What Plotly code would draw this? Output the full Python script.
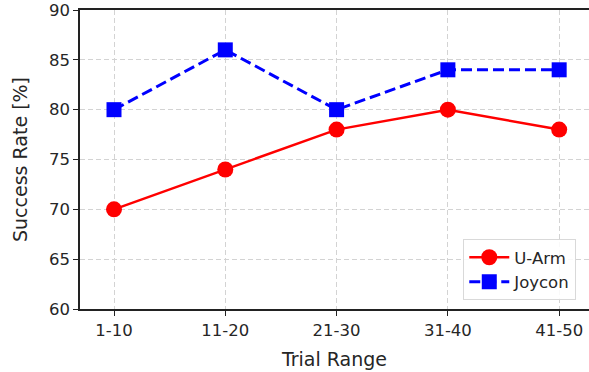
import plotly.graph_objects as go

categories = ["1-10", "11-20", "21-30", "31-40", "41-50"]
uarm = [70, 74, 78, 80, 78]
joycon = [80, 86, 80, 84, 84]
y_ticks = [60, 65, 70, 75, 80, 85, 90]

fig = go.Figure()
fig.add_trace(go.Scatter(
    x=list(range(len(categories))), y=uarm, name="U-Arm", mode="lines+markers",
    line=dict(color="#ff0000", width=2.5),
    marker=dict(symbol="circle", size=16, color="#ff0000"),
))
fig.add_trace(go.Scatter(
    x=list(range(len(categories))), y=joycon, name="Joycon", mode="lines+markers",
    line=dict(color="#0000ff", width=3, dash="11px,5px"),
    marker=dict(symbol="square", size=15, color="#0000ff"),
))

font = "DejaVu Sans"
fig.update_layout(
    width=589, height=372,
    margin=dict(l=80, r=0, t=10, b=63),
    paper_bgcolor="white", plot_bgcolor="white",
    font=dict(family=font, size=16, color="#262626"),
    showlegend=True,
    legend=dict(
        x=0.975, y=0.03, xanchor="right", yanchor="bottom",
        bgcolor="rgba(255,255,255,0.85)", bordercolor="#d9d9d9", borderwidth=1,
        font=dict(family=font, size=16.5, color="#262626"),
        itemwidth=40, tracegroupgap=0,
    ),
)
fig.update_xaxes(
    range=[-0.3055, 4.268], tickmode="array", tickvals=list(range(len(categories))),
    ticktext=categories, ticks="outside", ticklen=5, tickwidth=1.3, tickcolor="#222",
    showline=True, linecolor="#222", linewidth=1.6, mirror=True,
    showgrid=True, gridcolor="#d3d3d3", griddash="5px,3px", gridwidth=1,
    zeroline=False, automargin=False,
    title=dict(text="Trial Range", font=dict(family=font, size=19, color="#262626"), standoff=14),
    tickfont=dict(family=font, size=16.5, color="#262626"),
)
fig.update_yaxes(
    range=[60, 90], tickmode="array", tickvals=y_ticks,
    ticks="outside", ticklen=5, tickwidth=1.3, tickcolor="#222",
    showline=True, linecolor="#222", linewidth=1.6, mirror=False,
    showgrid=True, gridcolor="#d3d3d3", griddash="5px,3px", gridwidth=1,
    zeroline=False, automargin=False,
    title=dict(text="Success Rate [%]", font=dict(family=font, size=19, color="#262626"), standoff=16),
    tickfont=dict(family=font, size=16.5, color="#262626"),
)

fig.write_html("out.html", config={"displayModeBar": False},
               post_script="document.body.style.margin='0';document.body.style.overflow='hidden';")
